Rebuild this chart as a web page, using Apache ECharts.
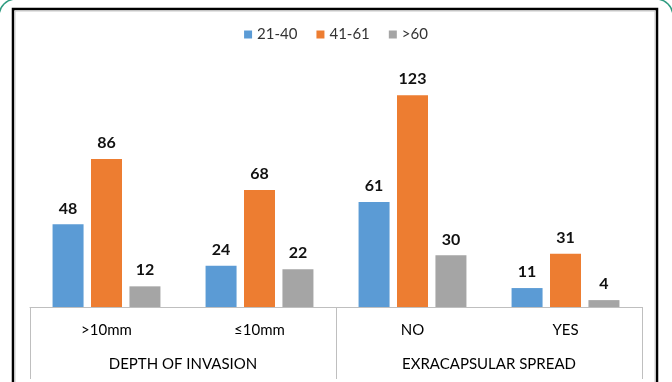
<!DOCTYPE html>
<html>
<head>
<meta charset="utf-8">
<script src="https://cdn.jsdelivr.net/npm/echarts@6/dist/echarts.min.js"></script>
<style>
  html, body { margin: 0; padding: 0; background: #fff; }
  #chart { width: 672px; height: 382px; }
</style>
</head>
<body>
<div id="chart"></div>
<script>
// Patient counts by age band, split by depth of invasion and extracapsular spread
const categories = ['>10mm', '≤10mm', 'NO', 'YES'];
const groups = ['DEPTH OF INVASION', 'EXRACAPSULAR SPREAD'];
const seriesNames = ['21-40', '41-61', '>60'];
const age21to40 = [48, 24, 61, 11];
const age41to61 = [86, 68, 123, 31];
const ageOver60 = [12, 22, 30, 4];

const colors = ['#5B9BD5', '#ED7D31', '#A5A5A5'];
const FONT = 'Lato, "Noto Sans", sans-serif';

const chart = echarts.init(document.getElementById('chart'), null, { renderer: 'canvas' });

const valueLabel = {
  show: true,
  position: 'top',
  distance: 8,
  fontFamily: FONT,
  fontWeight: 'bold',
  fontSize: 16,
  color: '#111'
};

function barSeries(name, data, color) {
  return {
    name: name,
    type: 'bar',
    xAxisIndex: 0,
    data: data,
    barWidth: 31,
    barGap: '24%',
    itemStyle: { color: color },
    label: valueLabel
  };
}

chart.setOption({
  animation: false,
  color: colors,
  graphic: [
    // outer rounded frame
    {
      type: 'rect',
      shape: { x: -1, y: -1, width: 674, height: 430, r: 17 },
      style: { fill: 'none', stroke: '#2f9c80', lineWidth: 1.5 },
      silent: true
    },
    // chart border
    {
      type: 'rect',
      shape: { x: 13, y: 9, width: 644, height: 420 },
      style: { fill: 'none', stroke: '#000', lineWidth: 2.5 },
      silent: true
    },
    {
      type: 'rect',
      shape: { x: 15, y: 11, width: 640, height: 420 },
      style: { fill: 'none', stroke: '#c8c8c8', lineWidth: 1 },
      silent: true
    }
  ],
  legend: {
    top: 22,
    left: 'center',
    itemWidth: 8,
    itemHeight: 8,
    itemGap: 19,
    icon: 'rect',
    textStyle: { fontFamily: FONT, fontSize: 15, color: '#333' },
    data: seriesNames
  },
  grid: { left: 30, right: 30, top: 66, bottom: 75 },
  xAxis: [
    {
      type: 'category',
      data: categories,
      axisLine: { lineStyle: { color: '#bfbfbf', width: 1 } },
      axisTick: { show: false },
      axisLabel: { margin: 16, fontFamily: FONT, fontSize: 15, color: '#000' }
    },
    {
      type: 'category',
      data: groups,
      position: 'bottom',
      axisLine: { show: false },
      axisTick: { show: true, length: 72, interval: 0, lineStyle: { color: '#bfbfbf', width: 1 } },
      axisLabel: { margin: 50, fontFamily: FONT, fontSize: 15, color: '#000' }
    }
  ],
  yAxis: {
    type: 'value',
    min: 0,
    max: 140,
    show: false,
    splitLine: { show: false }
  },
  series: [
    barSeries(seriesNames[0], age21to40, colors[0]),
    barSeries(seriesNames[1], age41to61, colors[1]),
    barSeries(seriesNames[2], ageOver60, colors[2])
  ]
});
</script>
</body>
</html>
